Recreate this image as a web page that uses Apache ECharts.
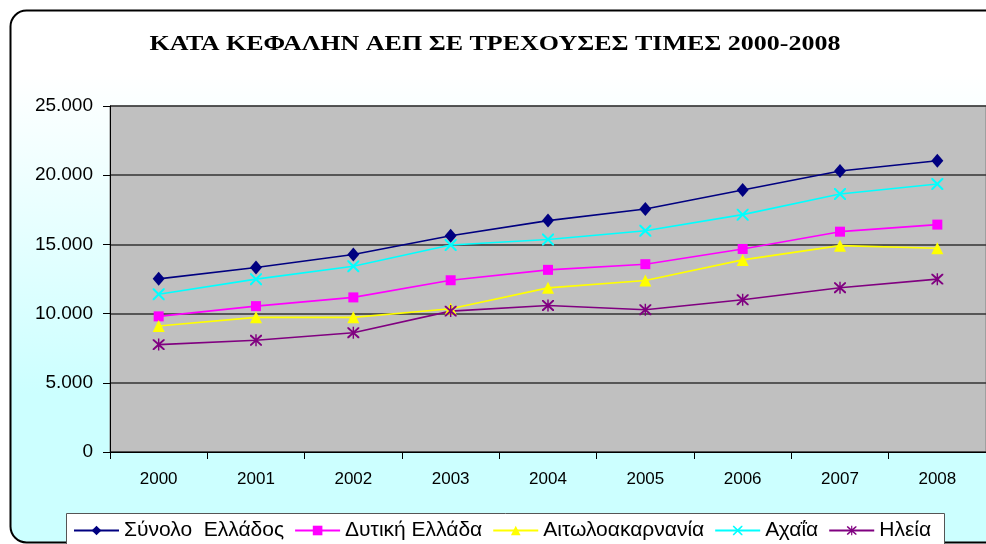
<!DOCTYPE html>
<html>
<head>
<meta charset="utf-8">
<script src="https://cdn.jsdelivr.net/npm/echarts@6/dist/echarts.min.js"></script>
<style>html,body{margin:0;padding:0;background:#fff;}#c{width:986px;height:544px;}</style>
</head>
<body>
<div id="c"></div>
<script>
const titleText = 'ΚΑΤΑ ΚΕΦΑΛΗΝ ΑΕΠ ΣΕ ΤΡΕΧΟΥΣΕΣ ΤΙΜΕΣ 2000-2008';
const years = ['2000','2001','2002','2003','2004','2005','2006','2007','2008'];
const seriesNames = ['Σύνολο  Ελλάδος','Δυτική Ελλάδα','Αιτωλοακαρνανία','Αχαΐα','Ηλεία'];
const synoloEllados = [12510, 13330, 14270, 15630, 16720, 17560, 18930, 20300, 21040];
const dytikiEllada = [9800, 10540, 11170, 12410, 13160, 13570, 14670, 15920, 16430];
const aitoloakarnania = [9100, 9730, 9730, 10350, 11860, 12390, 13880, 14910, 14720];
const achaia = [11400, 12490, 13420, 14960, 15350, 15990, 17150, 18640, 19360];
const ileia = [7760, 8070, 8620, 10180, 10590, 10280, 11000, 11870, 12490];
const yTicks = {min: 0, max: 25000, interval: 5000};

const xPath = 'path://M0,0 L1.2,0 L5,3.8 L8.8,0 L10,0 L10,1.2 L6.2,5 L10,8.8 L10,10 L8.8,10 L5,6.2 L1.2,10 L0,10 L0,8.8 L3.8,5 L0,1.2 Z';
const starPath = 'path://M0,0 L1.2,0 L5,3.8 L8.8,0 L10,0 L10,1.2 L6.2,5 L10,8.8 L10,10 L8.8,10 L5,6.2 L1.2,10 L0,10 L0,8.8 L3.8,5 L0,1.2 Z M4.4,-0.5 L5.6,-0.5 L5.6,10.5 L4.4,10.5 Z';

const fmt = v => v === 0 ? '0' : String(v).replace(/\B(?=(\d{3})+(?!\d))/g, '.');

function mk(name, data, color, symbol, size) {
  return {
    name, type: 'line', data, symbol, symbolSize: size,
    lineStyle: {color, width: 1.6},
    itemStyle: {color},
    emphasis: {disabled: true},
    animation: false
  };
}

const chart = echarts.init(document.getElementById('c'));
chart.setOption({
  animation: false,
  textStyle: {fontFamily: 'Liberation Sans, Arial, sans-serif'},
  graphic: [
    {
      type: 'rect', z: -10, silent: true,
      shape: {x: 10.5, y: 10.5, width: 1000, height: 532, r: 16},
      style: {
        fill: {type: 'linear', x: 0, y: 0, x2: 0, y2: 1, global: false,
          colorStops: [{offset: 0, color: '#ffffff'}, {offset: 0.12, color: '#ffffff'}, {offset: 0.72, color: '#ccffff'}, {offset: 1, color: '#ccffff'}]},
        stroke: '#000', lineWidth: 2
      }
    },
    {
      type: 'rect', z: -5, silent: true,
      shape: {x: 66.5, y: 513.5, width: 878, height: 40},
      style: {fill: '#ffffff', stroke: '#555', lineWidth: 1}
    },
    {
      type: 'text', silent: true, x: 495, y: 45, scaleX: 1.3,
      style: {
        text: titleText, align: 'center', verticalAlign: 'middle',
        font: 'bold 20px "Liberation Serif", "Times New Roman", serif', fill: '#000'
      }
    }
  ],
  legend: {
    left: 73, top: 520, padding: 0, itemGap: 10, itemWidth: 45, itemHeight: 12,
    textStyle: {fontSize: 21, color: '#000'},
    data: seriesNames
  },
  grid: {left: 110, right: 0, top: 106, bottom: 92, show: true, backgroundColor: '#c0c0c0', borderColor: '#808080', borderWidth: 1},
  xAxis: {
    type: 'category', data: years, boundaryGap: true,
    axisLine: {lineStyle: {color: '#000', width: 1}},
    axisTick: {show: true, length: 7, lineStyle: {color: '#000'}},
    axisLabel: {color: '#000', fontSize: 17, margin: 19}
  },
  yAxis: {
    type: 'value', min: yTicks.min, max: yTicks.max, interval: yTicks.interval,
    axisLine: {show: true, lineStyle: {color: '#000', width: 1}},
    axisTick: {show: true, length: 7, lineStyle: {color: '#000'}},
    axisLabel: {color: '#000', fontSize: 19, margin: 17, formatter: fmt},
    splitLine: {lineStyle: {color: '#333', width: 1.5}}
  },
  series: [
    mk(seriesNames[0], synoloEllados, '#000080', 'diamond', [12, 14]),
    mk(seriesNames[1], dytikiEllada, '#ff00ff', 'rect', 10),
    mk(seriesNames[2], aitoloakarnania, '#ffff00', 'triangle', 12),
    mk(seriesNames[3], achaia, '#00ffff', xPath, 12),
    mk(seriesNames[4], ileia, '#800080', starPath, 12)
  ]
});
</script>
</body>
</html>
